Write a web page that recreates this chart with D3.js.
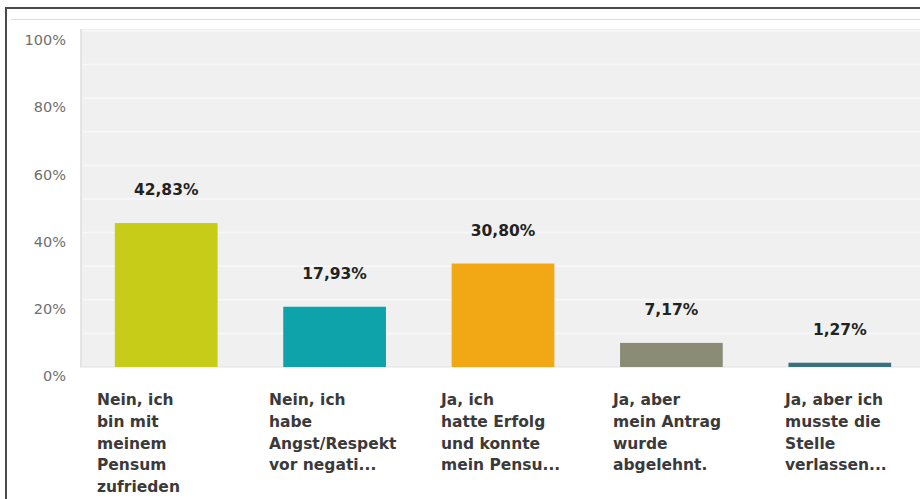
<!DOCTYPE html>
<html>
<head>
<meta charset="utf-8">
<script src="https://cdn.jsdelivr.net/npm/d3@7"></script>
<style>
  body { margin: 0; background: #fff; }
  svg { display: block; }
</style>
</head>
<body>
<div id="chart"></div>
<script>
const categories = ["c1", "c2", "c3", "c4", "c5"];
const category_lines = [
  ["Nein, ich", "bin mit", "meinem", "Pensum", "zufrieden"],
  ["Nein, ich", "habe", "Angst/Respekt", "vor negati..."],
  ["Ja, ich", "hatte Erfolg", "und konnte", "mein Pensu..."],
  ["Ja, aber", "mein Antrag", "wurde", "abgelehnt."],
  ["Ja, aber ich", "musste die", "Stelle", "verlassen..."]
];
const values = [42.83, 17.93, 30.80, 7.17, 1.27];
const value_labels = ["42,83%", "17,93%", "30,80%", "7,17%", "1,27%"];
const bar_colors = ["#c6cc17", "#0ea3aa", "#f2a814", "#8a8c76", "#3a6f7e"];
const y_ticks = [0, 20, 40, 60, 80, 100];
const grid_ticks = [10, 20, 30, 40, 50, 60, 70, 80, 90, 100];

const width = 920, height = 499;
const plot = {left: 80, right: 920, top: 29, bottom: 367};

const svg = d3.select("#chart").append("svg")
    .attr("width", width)
    .attr("height", height);

// frame
svg.append("path")
    .attr("d", "M6,499 V8 H920")
    .attr("fill", "none")
    .attr("stroke", "#4a4a4a")
    .attr("stroke-width", 2);
svg.append("line")
    .attr("x1", 11).attr("x2", 920)
    .attr("y1", 19.5).attr("y2", 19.5)
    .attr("stroke", "#dddddd");

const x = d3.scaleBand()
    .domain(categories)
    .range([82, 924])
    .paddingInner(0.39)
    .paddingOuter(0.195);

const y = d3.scaleLinear()
    .domain([0, 100])
    .range([367, 31]);

const labelX = d3.scalePoint()
    .domain(categories)
    .range([97, 785]);

// plot background
svg.append("rect")
    .attr("x", plot.left)
    .attr("y", plot.top)
    .attr("width", plot.right - plot.left)
    .attr("height", plot.bottom - plot.top)
    .attr("fill", "#f0f0f0");

svg.selectAll(".grid")
  .data(grid_ticks)
  .enter().append("line")
    .attr("class", "grid")
    .attr("x1", plot.left + 3).attr("x2", plot.right)
    .attr("y1", d => y(d)).attr("y2", d => y(d))
    .attr("stroke", "#f8f8f8")
    .attr("stroke-width", 1.5);

svg.append("line")
    .attr("x1", plot.left + 1).attr("x2", plot.left + 1)
    .attr("y1", plot.top).attr("y2", plot.bottom)
    .attr("stroke", "#e4e4e4")
    .attr("stroke-width", 2);
svg.append("line")
    .attr("x1", plot.left).attr("x2", plot.right)
    .attr("y1", plot.bottom).attr("y2", plot.bottom)
    .attr("stroke", "#e2e2e2");

// y axis labels
const yAxis = svg.append("g")
    .attr("transform", "translate(" + plot.left + ",0)")
    .call(d3.axisLeft(y)
      .tickValues(y_ticks)
      .tickSize(0)
      .tickPadding(14)
      .tickFormat(d => d + "%"));
yAxis.select(".domain").remove();
yAxis.selectAll("text")
    .attr("dy", "0.32em")
    .attr("y", 9)
    .attr("fill", "#6f6f6f")
    .attr("font-family", "DejaVu Sans")
    .attr("font-size", "14.5px");

// bars
svg.selectAll(".bar")
  .data(values)
  .enter().append("rect")
    .attr("class", "bar")
    .attr("x", (d, i) => x(categories[i]))
    .attr("width", x.bandwidth())
    .attr("y", d => y(d))
    .attr("height", d => y(0) - y(d))
    .attr("fill", (d, i) => bar_colors[i]);

// value labels
svg.selectAll(".val")
  .data(values)
  .enter().append("text")
    .attr("class", "val")
    .attr("x", (d, i) => x(categories[i]) + x.bandwidth() / 2)
    .attr("y", d => y(d) - 28)
    .attr("text-anchor", "middle")
    .attr("font-family", "DejaVu Sans")
    .attr("font-weight", "bold")
    .attr("font-size", "15.5px")
    .attr("fill", "#222222")
    .text((d, i) => value_labels[i]);

// category labels
const cat = svg.selectAll(".cat")
  .data(category_lines)
  .enter().append("text")
    .attr("class", "cat")
    .attr("x", (d, i) => labelX(categories[i]))
    .attr("y", 405)
    .attr("font-family", "DejaVu Sans")
    .attr("font-weight", "bold")
    .attr("font-size", "15.5px")
    .attr("fill", "#3a3a3a");
cat.selectAll("tspan")
  .data(d => d)
  .enter().append("tspan")
    .attr("x", function() { return d3.select(this.parentNode).attr("x"); })
    .attr("dy", (d, i) => i === 0 ? 0 : 21.8)
    .text(d => d);
</script>
</body>
</html>
